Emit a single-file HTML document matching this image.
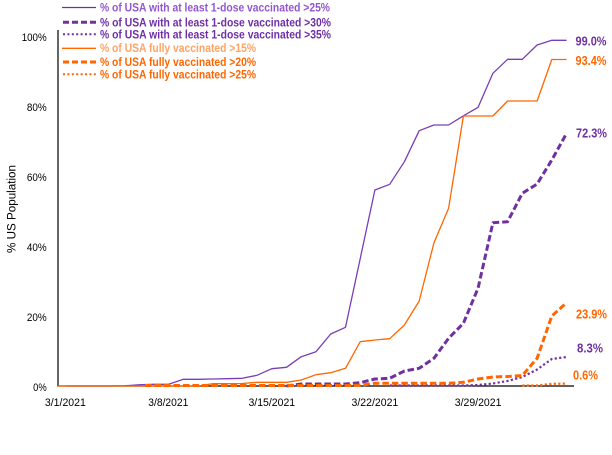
<!DOCTYPE html>
<html>
<head>
<meta charset="utf-8">
<style>
  html, body { margin:0; padding:0; background:#ffffff; }
  body { width:612px; height:455px; overflow:hidden; }
  svg { display:block; }
  text { font-family: "Liberation Sans", Arial, sans-serif; }
  .tick { font-size:11px; fill:#000; }
  .leg { font-size:11.5px; font-weight:bold; }
  .end { font-size:12.5px; font-weight:bold; }
</style>
</head>
<body>
<svg width="612" height="455" viewBox="0 0 612 455" xmlns="http://www.w3.org/2000/svg">
  <rect x="0" y="0" width="612" height="455" fill="#ffffff"/>

  <!-- Axes -->
  <line x1="58" y1="30" x2="58" y2="386.5" stroke="#000" stroke-width="1.2"/>
  <line x1="58" y1="386" x2="574" y2="386" stroke="#000" stroke-width="1.2"/>

  <!-- Series: purple solid (>25%) -->
  <polyline fill="none" stroke="#7A3DB8" stroke-width="1.3" stroke-linejoin="round"
    points="65.4,386 109.6,386 124.4,385.8 139.1,384.8 153.8,384.3 168.6,384.3 183.3,379.3 198.1,379.3 212.8,379 227.5,378.7 242.3,378.3 257,375.3 271.8,368.7 286.5,367.3 301.2,356.7 316,351.7 330.7,334 345.5,327.3 360.2,258.7 374.9,190 389.7,184.3 404.4,161.7 419.2,130.7 433.9,125 448.6,125 463.4,115.8 478.1,107.3 492.9,73.3 507.6,59.3 522.3,59.3 537.1,45 551.8,40.3 566.6,40.3"/>

  <!-- purple dashed (>30%) -->
  <polyline fill="none" stroke="#7030A0" stroke-width="3" stroke-dasharray="6.5 3" stroke-linejoin="round"
    points="286.5,386 301.2,384 316,384 330.7,384 345.5,384 360.2,382.7 374.9,379 389.7,378.3 404.4,371 419.2,368.3 433.9,358.3 448.6,338.3 463.4,323.3 478.1,288 492.9,222.7 507.6,221.7 522.3,193.3 537.1,184 551.8,160 566.6,133.3"/>

  <!-- purple dotted (>35%) -->
  <polyline fill="none" stroke="#7030A0" stroke-width="2.2" stroke-dasharray="2.2 2.3" stroke-linejoin="round"
    points="389.7,385.5 463.4,385.5 478.1,385 492.9,383.5 507.6,381 522.3,377 537.1,369.5 551.8,359 566.6,357"/>

  <!-- orange solid (>15%) -->
  <polyline fill="none" stroke="#FF6600" stroke-width="1.3" stroke-linejoin="round"
    points="58,386 198.1,386 212.8,383.7 227.5,383.7 242.3,383.5 257,382.3 271.8,382.3 286.5,382.3 301.2,380 316,374.7 330.7,372.7 345.5,368.3 360.2,341.7 374.9,340 389.7,338.7 404.4,325 419.2,301 433.9,243 448.6,208.3 463.4,116 478.1,116 492.9,116 507.6,101 522.3,101 537.1,101 551.8,59.5 566.6,59.5"/>

  <!-- orange dashed (>20%) -->
  <polyline fill="none" stroke="#FF6600" stroke-width="3" stroke-dasharray="6.5 3" stroke-linejoin="round"
    points="145,385.5 345.5,385.5 360.2,385.3 374.9,383.3 448.6,383.3 463.4,382.3 478.1,379 492.9,377 507.6,376.5 522.3,375.5 537.1,358.3 551.8,316 566.6,302.7"/>

  <!-- orange dotted (>25%) -->
  <polyline fill="none" stroke="#FF6600" stroke-width="2.2" stroke-dasharray="2.2 2.3" stroke-linejoin="round"
    points="522.3,385.5 537.1,385.5 551.8,383.8 566.6,383.6"/>

  <!-- Y tick labels -->
  <text class="tick" x="46.7" y="41" text-anchor="end" textLength="25" lengthAdjust="spacingAndGlyphs">100%</text>
  <text class="tick" x="46.7" y="111" text-anchor="end" textLength="19.8" lengthAdjust="spacingAndGlyphs">80%</text>
  <text class="tick" x="46.7" y="181" text-anchor="end" textLength="19.8" lengthAdjust="spacingAndGlyphs">60%</text>
  <text class="tick" x="46.7" y="251" text-anchor="end" textLength="19.8" lengthAdjust="spacingAndGlyphs">40%</text>
  <text class="tick" x="46.7" y="321" text-anchor="end" textLength="19.8" lengthAdjust="spacingAndGlyphs">20%</text>
  <text class="tick" x="46.7" y="391" text-anchor="end" textLength="13.6" lengthAdjust="spacingAndGlyphs">0%</text>

  <!-- Y axis title -->
  <text transform="translate(15.5,209) rotate(-90)" text-anchor="middle" font-size="11.5" fill="#000" textLength="88" lengthAdjust="spacingAndGlyphs">% US Population</text>

  <!-- X tick labels -->
  <text class="tick" x="65.4" y="406" text-anchor="middle" textLength="41" lengthAdjust="spacingAndGlyphs">3/1/2021</text>
  <text class="tick" x="168.3" y="406" text-anchor="middle" textLength="40" lengthAdjust="spacingAndGlyphs">3/8/2021</text>
  <text class="tick" x="271.8" y="406" text-anchor="middle" textLength="46.7" lengthAdjust="spacingAndGlyphs">3/15/2021</text>
  <text class="tick" x="374.9" y="406" text-anchor="middle" textLength="46.7" lengthAdjust="spacingAndGlyphs">3/22/2021</text>
  <text class="tick" x="478.1" y="406" text-anchor="middle" textLength="46.7" lengthAdjust="spacingAndGlyphs">3/29/2021</text>

  <!-- End labels -->
  <text class="end" x="575.5" y="45.5" fill="#7030A0" textLength="31" lengthAdjust="spacingAndGlyphs">99.0%</text>
  <text class="end" x="575.5" y="64.8" fill="#FF6600" textLength="31" lengthAdjust="spacingAndGlyphs">93.4%</text>
  <text class="end" x="576" y="137.3" fill="#7030A0" textLength="31" lengthAdjust="spacingAndGlyphs">72.3%</text>
  <text class="end" x="576" y="318.5" fill="#FF6600" textLength="31" lengthAdjust="spacingAndGlyphs">23.9%</text>
  <text class="end" x="577" y="352.5" fill="#7030A0" textLength="26" lengthAdjust="spacingAndGlyphs">8.3%</text>
  <text class="end" x="573" y="379.5" fill="#FF6600" textLength="25" lengthAdjust="spacingAndGlyphs">0.6%</text>

  <!-- Legend -->
  <line x1="62" y1="7.5" x2="96" y2="7.5" stroke="#7030A0" stroke-width="1.3"/>
  <text class="leg" x="100" y="11.7" fill="#9257D0" textLength="230" lengthAdjust="spacingAndGlyphs">% of USA with at least 1-dose vaccinated &gt;25%</text>

  <line x1="63" y1="22.3" x2="96" y2="22.3" stroke="#7030A0" stroke-width="3" stroke-dasharray="6 3"/>
  <text class="leg" x="100" y="26.4" fill="#6E2FA8" textLength="231" lengthAdjust="spacingAndGlyphs">% of USA with at least 1-dose vaccinated &gt;30%</text>

  <line x1="63" y1="34.3" x2="96" y2="34.3" stroke="#7030A0" stroke-width="2" stroke-dasharray="2 2.4"/>
  <text class="leg" x="100" y="38.5" fill="#6E2FA8" textLength="231" lengthAdjust="spacingAndGlyphs">% of USA with at least 1-dose vaccinated &gt;35%</text>

  <line x1="62" y1="48.3" x2="96" y2="48.3" stroke="#FF6600" stroke-width="1.3"/>
  <text class="leg" x="100" y="52.2" fill="#FFA366" textLength="156" lengthAdjust="spacingAndGlyphs">% of USA fully vaccinated &gt;15%</text>

  <line x1="63" y1="62" x2="96" y2="62" stroke="#FF6600" stroke-width="3" stroke-dasharray="6 3"/>
  <text class="leg" x="100" y="66.2" fill="#FF6600" textLength="156" lengthAdjust="spacingAndGlyphs">% of USA fully vaccinated &gt;20%</text>

  <line x1="63" y1="74.2" x2="96" y2="74.2" stroke="#FF6600" stroke-width="2" stroke-dasharray="2 2.4"/>
  <text class="leg" x="100" y="78.5" fill="#FF6600" textLength="156" lengthAdjust="spacingAndGlyphs">% of USA fully vaccinated &gt;25%</text>
</svg>
</body>
</html>
